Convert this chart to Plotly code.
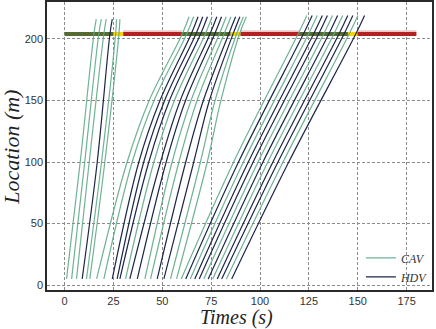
import plotly.graph_objs as go

# signal phases at the stop line
sig_loc = 204
sig_start = [0, 25, 30, 60, 85, 90, 120, 145, 150]
sig_end = [25, 30, 60, 85, 90, 120, 145, 150, 180]
sig_color = ['#556b2f', '#f7d400', '#b22222', '#556b2f', '#f7d400', '#b22222',
             '#556b2f', '#f7d400', '#b22222']

# group 1: pass in the first green
g1_types = ['CAV', 'CAV', 'CAV', 'HDV', 'CAV', 'CAV']
g1_loc = [5, 100, 204, 216]
g1_t005 = [1.0, 3.6, 6.1, 9.0, 11.2, 12.9]
g1_t100 = [8.0, 10.3, 12.6, 16.7, 18.9, 20.6]
g1_t204 = [15.0, 17.5, 20.1, 23.2, 26.1, 27.8]
g1_ttop = [16.2, 18.8, 21.3, 24.4, 26.6, 28.3]

# group 2: slow down during red, pass in the second green
g2_types = ['CAV', 'CAV', 'HDV', 'HDV', 'HDV', 'CAV', 'HDV', 'HDV', 'CAV', 'CAV',
            'HDV', 'HDV', 'CAV', 'CAV']
g2_loc = [5, 100, 150, 204, 218]
g2_t005 = [16.4, 20.1, 24.4, 26.9, 28.3, 31.2, 33.4, 37.2, 41.1, 44.0, 47.4, 50.8, 54.2, 57.3]
g2_t100 = [32.0, 34.6, 38.0, 40.5, 43.1, 45.7, 49.1, 52.0, 55.0, 58.5, 62.0, 66.1, 69.5, 73.0]
g2_t150 = [43.3, 45.8, 48.8, 51.2, 53.7, 56.2, 59.2, 61.9, 64.7, 67.8, 71.0, 74.1, 77.0, 80.0]
g2_t204 = [60.2, 62.5, 64.8, 67.2, 69.6, 72.0, 74.4, 76.8, 79.2, 81.6, 84.0, 86.2, 88.0, 89.5]
g2_ttop = [63.7, 66.0, 68.3, 70.7, 73.1, 75.5, 77.9, 80.3, 82.7, 85.1, 87.5, 89.7, 91.5, 93.0]

# group 3: pass in the third green
g3_types = ['CAV', 'HDV', 'CAV', 'HDV', 'HDV', 'CAV', 'HDV', 'CAV', 'HDV', 'HDV',
            'CAV', 'HDV']
g3_loc = [5, 100, 204, 219]
g3_t005 = [59.7, 62.0, 64.3, 66.6, 68.9, 71.2, 73.5, 75.8, 78.1, 80.4, 82.8, 85.5]
g3_t100 = [86.5, 89.0, 91.5, 94.0, 96.5, 99.0, 101.5, 104.0, 106.6, 109.2, 111.8, 114.7]
g3_t204 = [119.5, 122.2, 124.8, 127.4, 130.0, 132.6, 135.2, 137.8, 140.4, 143.0, 145.6, 149.0]
g3_ttop = [124.0, 126.7, 129.3, 131.9, 134.5, 137.1, 139.7, 142.3, 144.9, 147.5, 150.1, 153.5]

colors = {'CAV': 'rgba(95,170,135,0.9)', 'HDV': '#1c2648'}

traces = []
for s, e, c in zip(sig_start, sig_end, sig_color):
    if c == '#b22222':
        traces.append(go.Scatter(x=[s, e], y=[sig_loc + 1, sig_loc + 1], mode='lines',
                                 line={'color': 'rgba(178,34,34,0.25)', 'width': 5},
                                 showlegend=False, hoverinfo='skip'))
    traces.append(go.Scatter(x=[s, e], y=[sig_loc, sig_loc], mode='lines',
                             line={'color': c, 'width': 4},
                             showlegend=False, hoverinfo='skip'))

shown = set()
groups = [(g1_types, g1_loc, [g1_t005, g1_t100, g1_t204, g1_ttop]),
          (g2_types, g2_loc, [g2_t005, g2_t100, g2_t150, g2_t204, g2_ttop]),
          (g3_types, g3_loc, [g3_t005, g3_t100, g3_t204, g3_ttop])]
for types, locs, times in groups:
    for i, vt in enumerate(types):
        traces.append(go.Scatter(x=[t[i] for t in times], y=locs, mode='lines',
                                 line={'color': colors[vt], 'width': 1.2, 'shape': 'spline'},
                                 name=vt, legendgroup=vt,
                                 showlegend=vt not in shown))
        shown.add(vt)

axis_common = {'showline': True, 'mirror': True, 'linecolor': '#2a2a2a', 'linewidth': 1.5,
               'showgrid': True, 'gridcolor': '#8c8c8c', 'gridwidth': 0.8,
               'griddash': '3px,2px', 'zeroline': False, 'ticks': '', 'automargin': False,
               'tickfont': {'family': 'Liberation Sans', 'size': 11, 'color': '#333'}}

title_font = {'family': 'Liberation Serif', 'size': 22, 'color': '#222', 'style': 'italic'}

layout = {'width': 436, 'height': 329,
          'margin': {'l': 47, 'r': 4, 't': 2, 'b': 39},
          'plot_bgcolor': 'white', 'paper_bgcolor': 'white',
          'xaxis': dict(axis_common, range=[-9, 188], tickvals=[0, 25, 50, 75, 100, 125, 150, 175]),
          'yaxis': dict(axis_common, range=[-4, 230], tickvals=[0, 50, 100, 150, 200]),
          'annotations': [
              {'text': 'Times (s)', 'xref': 'paper', 'yref': 'paper', 'x': 0.491, 'y': -0.097,
               'xanchor': 'center', 'yanchor': 'middle', 'showarrow': False,
               'font': dict(title_font, size=20)},
              {'text': 'Location (m)', 'xref': 'paper', 'yref': 'paper', 'x': -0.091, 'y': 0.497,
               'xanchor': 'center', 'yanchor': 'middle', 'textangle': -90, 'showarrow': False,
               'font': title_font}],
          'legend': {'x': 1.005, 'y': -0.005, 'xanchor': 'right', 'yanchor': 'bottom',
                     'bgcolor': 'rgba(0,0,0,0)', 'itemwidth': 30, 'tracegroupgap': 0,
                     'font': {'family': 'Liberation Serif', 'size': 12, 'color': '#333',
                              'style': 'italic'}}}

fig = go.Figure(data=traces, layout=layout)
fig.write_html("out.html", config={'displayModeBar': False},
               post_script="document.body.style.margin='0';")
